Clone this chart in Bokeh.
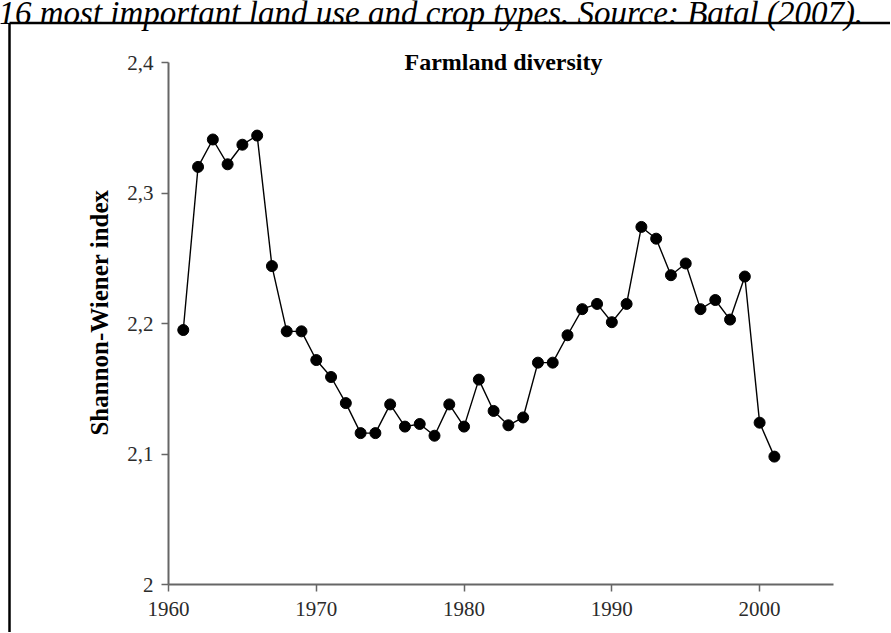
from bokeh.plotting import figure
from bokeh.models import Range1d, FixedTicker
from bokeh.core.properties import value
from bokeh.embed import file_html
from bokeh.resources import INLINE
import math

years = list(range(1961, 2002))
diversity = [2.195, 2.320, 2.341, 2.322, 2.337, 2.344, 2.244, 2.194, 2.194, 2.172,
             2.159, 2.139, 2.116, 2.116, 2.138, 2.121, 2.123, 2.114, 2.138, 2.121,
             2.157, 2.133, 2.122, 2.128, 2.170, 2.170, 2.191, 2.211, 2.215, 2.201,
             2.215, 2.274, 2.265, 2.237, 2.246, 2.211, 2.218, 2.203, 2.236, 2.124,
             2.098]

x_ticks = [1960, 1970, 1980, 1990, 2000]
x_tick_labels = ["1960", "1970", "1980", "1990", "2000"]
y_ticks = [2.0, 2.1, 2.2, 2.3, 2.4]
y_tick_labels = ["2", "2,1", "2,2", "2,3", "2,4"]

title_text = "Farmland diversity"
y_label = "Shannon-Wiener index"
caption_text = "16 most important land use and crop types. Source: Batal (2007)."

SERIF = "Liberation Serif"

# page geometry (pixels)
W, H = 890, 632
FL, FR, FT, FB = 168, 833, 62, 584          # where the axes sit
X0, X1, Y0, Y1 = 1960, 2005, 2.0, 2.4       # axis extents
ppx = (FR - FL) / (X1 - X0)
ppy = (FB - FT) / (Y1 - Y0)

p = figure(width=W, height=H, output_backend="svg", toolbar_location=None,
           x_range=Range1d(X0 - FL / ppx, X0 + (W - FL) / ppx),
           y_range=Range1d(Y0 - (H - FB) / ppy, Y0 + FB / ppy),
           min_border=0, min_border_left=0, min_border_right=0,
           min_border_top=0, min_border_bottom=0)
p.extra_x_ranges = {"px": Range1d(0, W)}
p.extra_y_ranges = {"px": Range1d(H, 0)}
p.background_fill_color = "white"
p.border_fill_color = "white"
p.outline_line_color = None
p.xgrid.visible = False
p.ygrid.visible = False

for ax in (p.xaxis[0], p.yaxis[0]):
    ax.axis_line_color = "#666666"
    ax.axis_line_width = 2
    ax.major_tick_line_color = "#666666"
    ax.major_tick_line_width = 1.5
    ax.major_tick_out = 7
    ax.major_tick_in = 0
    ax.minor_tick_line_color = None
    ax.major_label_text_font = SERIF
    ax.major_label_text_font_size = "21px"
    ax.major_label_text_color = "#2b2b2b"

p.xaxis.fixed_location = Y0
p.xaxis.bounds = (X0, X1)
p.xaxis.ticker = FixedTicker(ticks=x_ticks)
p.xaxis.major_label_overrides = dict(zip(x_ticks, x_tick_labels))
p.xaxis.major_label_standoff = 10

p.yaxis.fixed_location = X0
p.yaxis.bounds = (Y0, Y1)
p.yaxis.ticker = FixedTicker(ticks=y_ticks)
p.yaxis.major_label_overrides = dict(zip(y_ticks, y_tick_labels))
p.yaxis.major_label_standoff = 8

# y-axis title
p.text(x=[99], y=[312], text=[y_label], angle=math.pi / 2, x_range_name="px", y_range_name="px",
       text_font=value(SERIF), text_font_style="bold", text_font_size="25px",
       text_align="center", text_baseline="middle", text_color="black")

# frame box of the figure panel (left and top edges visible)
p.segment(x0=[9, 9], y0=[22.5, 22.5], x1=[W + 10, 9], y1=[22.5, H + 10],
          x_range_name="px", y_range_name="px", line_color="black", line_width=2.5)

# caption of the page, cut at the top edge
p.text(x=[-2], y=[12], text=[caption_text], x_range_name="px", y_range_name="px",
       text_font=value(SERIF), text_font_style="italic", text_font_size="33px",
       text_align="left", text_baseline="alphabetic", text_color="black")

# title
p.text(x=[503], y=[61], text=[title_text], x_range_name="px", y_range_name="px",
       text_font=value(SERIF), text_font_style="bold", text_font_size="24px",
       text_align="center", text_baseline="middle", text_color="black")

p.line(years, diversity, line_color="black", line_width=1.4)
p.scatter(years, diversity, size=11, fill_color="black", line_color="black")

open("out.html", "w").write(file_html(p, INLINE))
